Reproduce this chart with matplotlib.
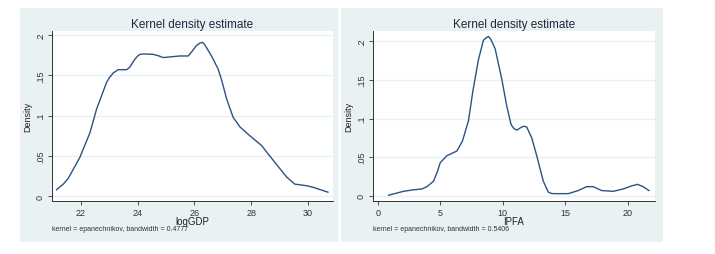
import matplotlib
matplotlib.use('Agg')
import matplotlib.pyplot as plt

plt.rcParams['font.family'] = ['Liberation Sans', 'DejaVu Sans']

# logGDP density curve
gdp_x = [21.14, 21.38, 21.55, 21.96, 22.32, 22.55, 22.90, 23.00, 23.14, 23.31,
         23.61, 23.72, 23.90, 24.00, 24.08, 24.20, 24.55, 24.75, 24.90, 25.48,
         25.78, 25.92, 26.07, 26.19, 26.28, 26.36, 26.60, 26.83, 26.95, 27.13,
         27.36, 27.60, 27.95, 28.36, 28.65, 29.24, 29.53, 29.94, 30.18, 30.70]
gdp_y = [0.008, 0.015, 0.022, 0.048, 0.079, 0.108, 0.141, 0.147, 0.153, 0.157,
         0.157, 0.160, 0.170, 0.174, 0.176, 0.1765, 0.176, 0.174, 0.172, 0.174,
         0.174, 0.180, 0.187, 0.190, 0.191, 0.188, 0.174, 0.158, 0.145, 0.121,
         0.098, 0.086, 0.075, 0.063, 0.050, 0.024, 0.015, 0.013, 0.011, 0.005]

# IPFA density curve
ipfa_x = [0.85, 2.05, 2.85, 3.52, 3.92, 4.45, 4.75, 4.99, 5.52, 6.32,
          6.77, 7.25, 7.60, 8.05, 8.45, 8.65, 8.85, 9.05, 9.39, 9.92,
          10.32, 10.67, 10.90, 11.12, 11.52, 11.70, 11.92, 12.32, 12.72, 13.25,
          13.65, 13.85, 14.05, 15.25, 16.05, 16.72, 17.25, 17.92, 18.85, 19.65,
          20.32, 20.80, 21.25, 21.71]
ipfa_y = [0.001, 0.006, 0.008, 0.009, 0.012, 0.019, 0.031, 0.043, 0.052, 0.058,
          0.071, 0.097, 0.135, 0.176, 0.201, 0.204, 0.206, 0.202, 0.190, 0.151,
          0.116, 0.092, 0.087, 0.085, 0.089, 0.090, 0.089, 0.075, 0.052, 0.019,
          0.005, 0.0035, 0.003, 0.003, 0.007, 0.012, 0.012, 0.007, 0.006, 0.009,
          0.013, 0.015, 0.012, 0.007]

y_ticks = [0, 0.05, 0.1, 0.15, 0.2]
y_labels = ['0', '.05', '.1', '.15', '.2']

W, H = 715, 255
bg = '#eaf1f3'
line_color = '#2b5381'

fig = plt.figure(figsize=(W / 100, H / 100), dpi=100)
fig.patch.set_facecolor('white')

def px_rect(l, r, t, b):
    return [l / W, 1 - b / H, (r - l) / W, (b - t) / H]

def density_plot(rect, x, y, xlim, ylim, xticks, xlabel, note, panel_rect):
    # 背景面板
    pax = fig.add_axes(px_rect(*panel_rect), zorder=0)
    pax.set_facecolor(bg)
    pax.set_xticks([])
    pax.set_yticks([])
    for s in pax.spines.values():
        s.set_visible(False)

    ax = fig.add_axes(px_rect(*rect), zorder=1)
    ax.set_facecolor('white')
    ax.plot(x, y, color=line_color, linewidth=1.0)
    ax.set_xlim(*xlim)
    ax.set_ylim(*ylim)
    ax.set_xticks(xticks)
    ax.set_xticklabels([str(v) for v in xticks])
    ax.set_yticks(y_ticks)
    ax.set_yticklabels(y_labels, rotation=90, va='center')
    ax.yaxis.grid(True, color=bg, linewidth=1.0)
    ax.set_axisbelow(True)
    for s in ['top', 'right']:
        ax.spines[s].set_visible(False)
    for s in ['left', 'bottom']:
        ax.spines[s].set_color('#333333')
        ax.spines[s].set_linewidth(0.7)
    ax.tick_params(axis='both', labelsize=6.5, length=3, width=0.6,
                   colors='#333333', pad=2)
    ax.set_xlabel(xlabel, fontsize=7, labelpad=-1, color='#222222')
    ax.set_ylabel('Density', fontsize=6.5, labelpad=3, color='#222222')
    ax.set_title('Kernel density estimate', fontsize=8.5, color='#1e2a3a', pad=3)
    ax.text(0.0, -0.159, note, transform=ax.transAxes, fontsize=5,
            color='#333333', ha='left', va='center')
    return ax

density_plot((52, 333, 32, 202), gdp_x, gdp_y, (20.98, 30.88), (-0.006, 0.205),
             [22, 24, 26, 28, 30], 'logGDP',
             'kernel = epanechnikov, bandwidth = 0.4777', (20, 338, 9, 243))
density_plot((373, 655, 32, 202), ipfa_x, ipfa_y, (-0.4, 22.2), (-0.0065, 0.213),
             [0, 5, 10, 15, 20], 'IPFA',
             'kernel = epanechnikov, bandwidth = 0.5406', (341, 663, 9, 243))

fig.savefig('out.png', dpi=100)
